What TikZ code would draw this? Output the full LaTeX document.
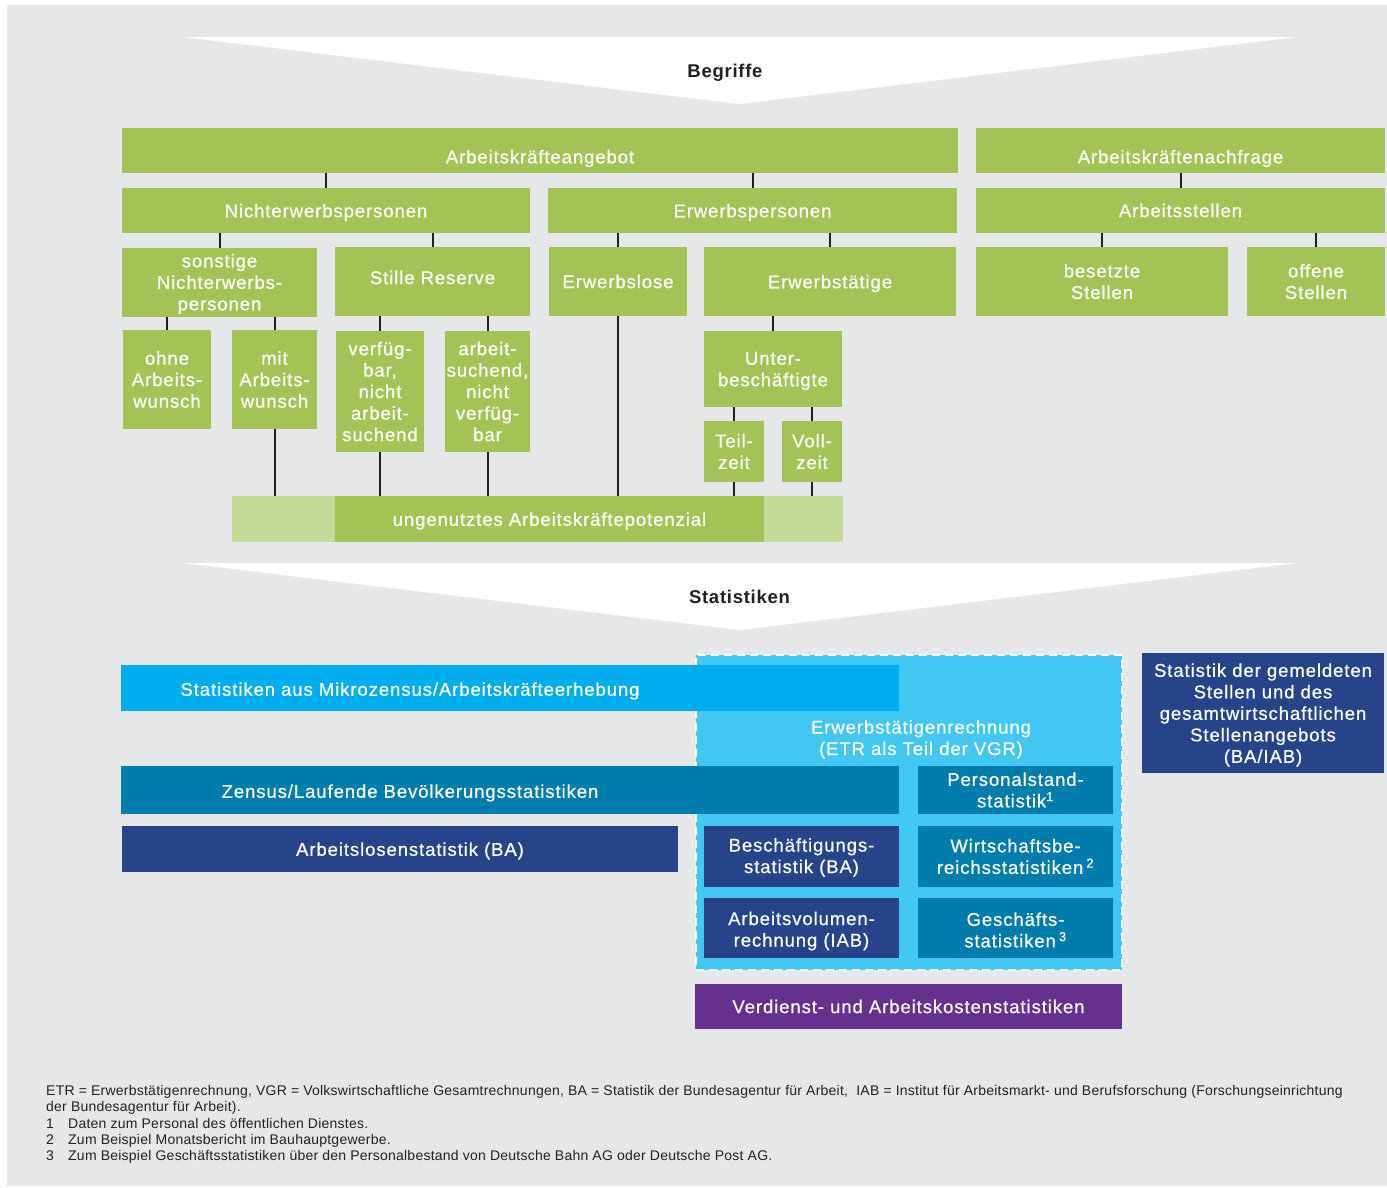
\documentclass[tikz,border=0pt]{standalone}
\usepackage{fontspec}
\setmainfont{Liberation Sans}
\newfontfamily\labfont[LetterSpace=5,FakeBold=0.6]{Liberation Sans}
\newfontfamily\headfont[LetterSpace=4]{Liberation Sans}
\newfontfamily\notefont[LetterSpace=1.7]{Liberation Sans}
\definecolor{bg}{HTML}{E6E7E8}
\definecolor{grn}{HTML}{A4C357}
\definecolor{lgrn}{HTML}{C5D999}
\definecolor{ink}{HTML}{231F20}
\definecolor{cyn}{HTML}{00AEEF}
\definecolor{etrc}{HTML}{42C6F2}
\definecolor{tealc}{HTML}{007DAD}
\definecolor{dblue}{HTML}{27448A}
\definecolor{purp}{HTML}{66308D}
% #1 label options, #2 name, #3 x1, #4 y1, #5 x2, #6 y2, #7 box style, #8 text
\newcommand\bx[8][]{%
  \pgfmathsetmacro\bxw{#5-#3}\pgfmathsetmacro\bxh{#6-#4}%
  \pgfmathsetmacro\bxx{(#3+#5)/2}\pgfmathsetmacro\bxy{(#4+#6)/2}%
  \node[box,#7,minimum width=\bxw pt,minimum height=\bxh pt] (#2) at (\bxx,\bxy) {};
  \node[lab,#1] (#2-t) at (#2.center) {#8};}
\begin{document}
\begin{tikzpicture}[x=1pt,y=-1pt,
  box/.style={rectangle,draw=none,inner sep=0pt,outer sep=0pt},
  lab/.style={inner sep=0pt,align=center,text=white,font=\labfont\fontsize{18.5}{21.5}\selectfont},
  head/.style={inner sep=0pt,text=ink,font=\headfont\bfseries\fontsize{18.5}{21.5}\selectfont},
  conn/.style={draw=ink,line width=2pt},
  chev/.style={fill=white},
  etrline/.style={draw=white,line width=2pt,dash pattern=on 8pt off 5pt},
  note/.style={inner sep=0pt,anchor=base west,text=ink,font=\notefont\fontsize{14}{16.3}\selectfont}]
\useasboundingbox (0,0) rectangle (1387,1187);
\fill[bg] (7,5) rectangle (1387,1186);
% chevrons
\fill[chev] (183,37) -- (1297,37) -- (739,104) -- cycle;
\node[head] (begr) at (725,72.5) {Begriffe};
\fill[chev] (183,563) -- (1297,563) -- (740,630) -- cycle;
\node[head] (stat) at (739.5,596.5) {Statistiken};
% Begriffe tree
\bx[yshift=-8pt]{ang}{122}{128}{958}{173}{fill=grn}{Arbeitskräfteangebot}
\bx[yshift=-8pt]{nach}{976}{128}{1385}{173}{fill=grn}{Arbeitskräftenachfrage}
\bx[yshift=-2pt]{nep}{122}{188}{530}{233}{fill=grn}{Nichterwerbspersonen}
\bx[yshift=-2pt]{ep}{548}{188}{957}{233}{fill=grn}{Erwerbspersonen}
\bx{ast}{976}{188}{1385}{233}{fill=grn}{Arbeitsstellen}
\bx[yshift=-1.5pt]{son}{122}{248}{317}{317}{fill=grn}{sonstige\\Nichterwerbs-\\personen}
\bx[yshift=4pt]{sr}{335}{247}{530}{316}{fill=grn}{Stille Reserve}
\bx{el}{549}{247}{687}{316}{fill=grn}{Erwerbslose}
\bx[yshift=-2pt]{et}{704}{247}{956}{316}{fill=grn}{Erwerbstätige}
\bx{bs}{976}{247}{1228}{316}{fill=grn}{besetzte\\Stellen}
\bx{os}{1247}{247}{1385}{316}{fill=grn}{offene\\Stellen}
\bx{ohne}{123}{330}{211}{429}{fill=grn}{ohne\\Arbeits-\\wunsch}
\bx{mit}{232}{330}{317}{429}{fill=grn}{mit\\Arbeits-\\wunsch}
\bx{vna}{336}{331}{424}{452}{fill=grn}{verfüg-\\bar,\\nicht\\arbeit-\\suchend}
\bx{anv}{445}{331}{530}{452}{fill=grn}{arbeit-\\suchend,\\nicht\\verfüg-\\bar}
\bx[yshift=-2pt]{ub}{704}{331}{842}{407}{fill=grn}{Unter-\\beschäftigte}
\bx{tz}{704}{421}{764}{482}{fill=grn}{Teil-\\zeit}
\bx{vz}{782}{421}{842}{482}{fill=grn}{Voll-\\zeit}
\bx{ung}{232}{496}{843}{542}{fill=lgrn}{}
\bx[yshift=-2pt]{ungm}{335}{496}{764}{542}{fill=grn}{ungenutztes Arbeitskräftepotenzial}
% connectors
\draw[conn] (nep.north) -- (nep.north |- ang.south);
\draw[conn] (ep.north) -- (ep.north |- ang.south);
\draw[conn] (ast.north) -- (ast.north |- nach.south);
\draw[conn] (son.north) -- (son.north |- nep.south);
\draw[conn] (sr.north) -- (sr.north |- nep.south);
\draw[conn] (el.north) -- (el.north |- ep.south);
\draw[conn] (et.north) -- (et.north |- ep.south);
\draw[conn] (bs.north) -- (bs.north |- ast.south);
\draw[conn] (os.north) -- (os.north |- ast.south);
\draw[conn] (ohne.north) -- (ohne.north |- son.south);
\draw[conn] (mit.north) -- (mit.north |- son.south);
\draw[conn] (vna.north) -- (vna.north |- sr.south);
\draw[conn] (anv.north) -- (anv.north |- sr.south);
\draw[conn] (ub.north) -- (ub.north |- et.south);
\draw[conn] (tz.north) -- (tz.north |- ub.south);
\draw[conn] (vz.north) -- (vz.north |- ub.south);
\draw[conn] (mit.south) -- (mit.south |- ung.north);
\draw[conn] (vna.south) -- (vna.south |- ung.north);
\draw[conn] (anv.south) -- (anv.south |- ung.north);
\draw[conn] (el.south) -- (el.south |- ung.north);
\draw[conn] (tz.south) -- (tz.south |- ung.north);
\draw[conn] (vz.south) -- (vz.south |- ung.north);
% Statistiken
\bx[xshift=12pt,yshift=73pt]{etr}{696}{655}{1122}{970}{fill=etrc,etrline}{Erwerbstätigenrechnung\\(ETR als Teil der VGR)}
\bx[xshift=-100pt,yshift=-3pt]{mz}{121}{665}{899}{711}{fill=cyn}{Statistiken aus Mikrozensus/Arbeitskräfteerhebung}
\bx[xshift=-100pt,yshift=-3pt]{zen}{121}{766}{899}{814}{fill=tealc}{Zensus/Laufende Bevölkerungsstatistiken}
\bx[xshift=10pt,yshift=-2pt]{als}{122}{826}{678}{872}{fill=dblue}{Arbeitslosenstatistik (BA)}
\bx{pst}{918}{766}{1113}{814}{fill=tealc}{Personalstand-\\statistik\textsuperscript{1}}
\bx[yshift=-1pt]{bes}{704}{826}{899}{887}{fill=dblue}{Beschäftigungs-\\statistik (BA)}
\bx{wbs}{918}{826}{1113}{887}{fill=tealc}{Wirtschaftsbe-\\reichsstatistiken\,\textsuperscript{2}}
\bx[yshift=-3pt]{avr}{704}{898}{899}{958}{fill=dblue}{Arbeitsvolumen-\\rechnung (IAB)}
\bx[yshift=-2pt]{gst}{918}{898}{1113}{958}{fill=tealc}{Geschäfts-\\statistiken\,\textsuperscript{3}}
\bx{vak}{695}{984}{1122}{1029}{fill=purp}{Verdienst- und Arbeitskostenstatistiken}
\bx[yshift=-2pt]{gem}{1142}{653}{1384}{773}{fill=dblue}{Statistik der gemeldeten\\Stellen und des\\gesamtwirtschaftlichen\\Stellenangebots\\(BA/IAB)}
% footnotes
\node[note] (f0) at (46,1095) {ETR = Erwerbstätigenrechnung, VGR = Volkswirtschaftliche Gesamtrechnungen, BA = Statistik der Bundesagentur für Arbeit,\ \ IAB = Institut für Arbeitsmarkt- und Berufsforschung (Forschungseinrichtung};
\node[note] (f1) at (46,1111) {der Bundesagentur für Arbeit).};
\node[note] (f2n) at (46,1128) {1};
\node[note] (f2) at (68,1128) {Daten zum Personal des öffentlichen Dienstes.};
\node[note] (f3n) at (46,1144) {2};
\node[note] (f3) at (68,1144) {Zum Beispiel Monatsbericht im Bauhauptgewerbe.};
\node[note] (f4n) at (46,1160) {3};
\node[note] (f4) at (68,1160) {Zum Beispiel Geschäftsstatistiken über den Personalbestand von Deutsche Bahn AG oder Deutsche Post AG.};
\end{tikzpicture}
\end{document}
